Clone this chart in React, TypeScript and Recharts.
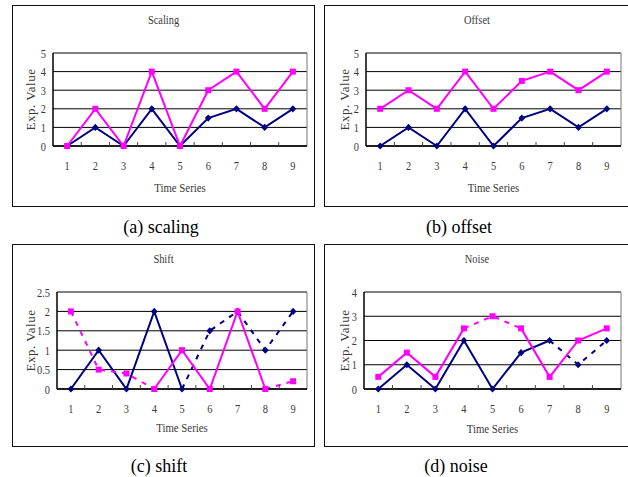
import { LineChart, Line, XAxis, YAxis, CartesianGrid, ReferenceLine } from 'recharts';

// x positions (Excel style category axis: points in the middle of each band)
const timeSeries = [1, 2, 3, 4, 5, 6, 7, 8, 9];
const bandEdges = [1.5, 2.5, 3.5, 4.5, 5.5, 6.5, 7.5, 8.5];

// (a) scaling
const scalingNavy = [0, 1, 0, 2, 0, 1.5, 2, 1, 2];
const scalingPink = [0, 2, 0, 4, 0, 3, 4, 2, 4];
// (b) offset
const offsetNavy = [0, 1, 0, 2, 0, 1.5, 2, 1, 2];
const offsetPink = [2, 3, 2, 4, 2, 3.5, 4, 3, 4];
// (c) shift
const shiftNavy = [0, 1, 0, 2, 0, 1.5, 2, 1, 2];
const shiftPink = [2, 0.5, 0.4, 0, 1, 0, 2, 0, 0.2];
// (d) noise
const noiseNavy = [0, 1, 0, 2, 0, 1.5, 2, 1, 2];
const noisePink = [0.5, 1.5, 0.5, 2.5, 3, 2.5, 0.5, 2, 2.5];

// y ticks
const ticksFive = [0, 1, 2, 3, 4, 5];
const ticksShift = [0, 0.5, 1, 1.5, 2, 2.5];
const ticksNoise = [0, 1, 2, 3, 4];

// line segments: [from, to, dashed]
type Seg = [number, number, boolean];
const allSolid: Seg[] = [[1, 9, false]];
const shiftNavySegs: Seg[] = [[1, 5, false], [5, 9, true]];
const shiftPinkSegs: Seg[] = [[1, 4, true], [4, 8, false], [8, 9, true]];
const noiseNavySegs: Seg[] = [[1, 7, false], [7, 9, true]];
const noisePinkSegs: Seg[] = [[1, 4, false], [4, 6, true], [6, 9, false]];

const NAVY = '#000080';
const PINK = '#FF00FF';
const TEXT = '#3a3a3a';
const DASH = '5 6';
const X_TICK_SIZE = 4;
const X_TICK_MARGIN = 11;
const FONT = '"Liberation Serif", "Times New Roman", serif';

function XTick(props: any) {
  const { x, y, payload } = props;
  const v = payload.value;
  if (!Number.isInteger(v)) {
    const axisY = y - X_TICK_SIZE - X_TICK_MARGIN;
    return <line x1={x} x2={x} y1={axisY} y2={axisY - 4} stroke="#444" strokeWidth={1} />;
  }
  return (
    <text transform={`translate(${x},${y}) scale(0.8,1)`} textAnchor="middle" dy="0.71em" fontSize={13} fill={TEXT} fontFamily={FONT}>
      {v}
    </text>
  );
}

function YTick(props: any) {
  const { x, y, payload } = props;
  return (
    <text transform={`translate(${x},${y}) scale(0.8,1)`} textAnchor="end" dy="0.35em" fontSize={13} fill={TEXT} fontFamily={FONT}>
      {payload.value}
    </text>
  );
}

function Diamond(props: any) {
  const { cx, cy } = props;
  if (cx == null || cy == null) return null;
  return <polygon points={`${cx},${cy - 3.6} ${cx + 3.4},${cy} ${cx},${cy + 3.6} ${cx - 3.4},${cy}`} fill={NAVY} />;
}

function Square(props: any) {
  const { cx, cy } = props;
  if (cx == null || cy == null) return null;
  return <rect x={cx - 3} y={cy - 3} width={6} height={6} fill={PINK} />;
}

interface PanelProps {
  box: [number, number, number, number]; // left, top, right, bottom (page px)
  plot: [number, number, number, number];
  title: string;
  caption: string;
  captionX: number;
  captionY: number;
  navy: number[];
  pink: number[];
  navySegs: Seg[];
  pinkSegs: Seg[];
  yTicks: number[];
  yLabelX: number;
  xLabelGap: number;
}

function Panel(p: PanelProps) {
  const [bl, bt, br, bb] = p.box;
  const [pl, pt, pr, pb] = p.plot;
  const w = br - bl;
  const h = bb - bt;

  const data = timeSeries.map((t, i) => {
    const row: any = { t, navy: p.navy[i], pink: p.pink[i] };
    p.navySegs.forEach(([a, b], k) => {
      row[`navy${k}`] = t >= a && t <= b ? p.navy[i] : null;
    });
    p.pinkSegs.forEach(([a, b], k) => {
      row[`pink${k}`] = t >= a && t <= b ? p.pink[i] : null;
    });
    return row;
  });

  const yMax = p.yTicks[p.yTicks.length - 1];

  return (
    <>
      <div
        style={{
          position: 'absolute', left: bl, top: bt, width: w, height: h,
          border: '1.5px solid #111', boxSizing: 'border-box',
        }}
      />
      <div
        style={{
          position: 'absolute', left: bl, top: bt + 7, width: w, height: 16, lineHeight: '16px',
          textAlign: 'center', fontSize: 13, color: TEXT, fontFamily: FONT,
          transform: 'scaleX(0.8)',
        }}
      >
        {p.title}
      </div>
      <div style={{ position: 'absolute', left: bl, top: bt }}>
        <LineChart
          width={w}
          height={h}
          data={data}
          margin={{ top: pt - bt, right: br - pr, left: 0, bottom: 0 }}
        >
          <CartesianGrid vertical={false} stroke="#000" strokeWidth={1} />
          <XAxis
            dataKey="t"
            type="number"
            domain={[0.5, 9.5]}
            ticks={[...timeSeries, ...bandEdges]}
            interval={0}
            height={bb - pb}
            tickLine={false}
            tickSize={X_TICK_SIZE}
            tickMargin={X_TICK_MARGIN}
            axisLine={{ stroke: '#000', strokeWidth: 1.5 }}
            tick={(tp: any) => <XTick {...tp} />}
            label={(lp: any) => {
              const vb = lp.viewBox;
              return (
                <text
                  transform={`translate(${vb.x + vb.width / 2},${vb.y + p.xLabelGap}) scale(0.8,1)`}
                  textAnchor="middle" dy="0.35em" fontSize={13.5} fill={TEXT} fontFamily={FONT}
                >
                  Time Series
                </text>
              );
            }}
          />
          <YAxis
            type="number"
            domain={[0, yMax]}
            ticks={p.yTicks}
            interval={0}
            width={pl - bl}
            tickLine={false}
            tickSize={2}
            tickMargin={5}
            axisLine={{ stroke: '#000', strokeWidth: 1.5 }}
            tick={(tp: any) => <YTick {...tp} />}
            label={(lp: any) => {
              const vb = lp.viewBox;
              const cx = p.yLabelX - bl;
              const cy = vb.y + vb.height / 2;
              return (
                <text
                  x={cx} y={cy} transform={`rotate(-90 ${cx} ${cy})`}
                  textAnchor="middle" dy="0.35em" fontSize={13} fill={TEXT} fontFamily={FONT}
                  letterSpacing={0.5}
                >
                  Exp. Value
                </text>
              );
            }}
          />
          <ReferenceLine x={9.5} stroke="#777" strokeWidth={1} />
          {p.navySegs.map(([, , dashed], k) => (
            <Line
              key={`n${k}`}
              dataKey={`navy${k}`}
              stroke={NAVY}
              strokeWidth={2}
              strokeDasharray={dashed ? DASH : undefined}
              dot={false}
              activeDot={false}
              type="linear"
              isAnimationActive={false}
            />
          ))}
          {p.pinkSegs.map(([, , dashed], k) => (
            <Line
              key={`p${k}`}
              dataKey={`pink${k}`}
              stroke={PINK}
              strokeWidth={2}
              strokeDasharray={dashed ? DASH : undefined}
              dot={false}
              activeDot={false}
              type="linear"
              isAnimationActive={false}
            />
          ))}
          <Line dataKey="navy" stroke="none" dot={(dp: any) => <Diamond key={`d${dp.index}`} {...dp} />} activeDot={false} isAnimationActive={false} />
          <Line dataKey="pink" stroke="none" dot={(dp: any) => <Square key={`s${dp.index}`} {...dp} />} activeDot={false} isAnimationActive={false} />
        </LineChart>
      </div>
      <div
        style={{
          position: 'absolute', left: p.captionX - 100, top: p.captionY - 11, width: 200,
          height: 22, lineHeight: '22px', textAlign: 'center', fontSize: 18, color: '#000', fontFamily: FONT,
        }}
      >
        {p.caption}
      </div>
    </>
  );
}

export default function App() {
  return (
    <div
      style={{
        position: 'absolute', left: 0, top: 0, width: 628, height: 477,
        overflow: 'hidden', background: '#fff',
      }}
    >
      <Panel
        box={[12, 5, 315, 207]} plot={[53, 53, 307, 146]}
        title="Scaling" caption="(a) scaling" captionX={161} captionY={227}
        navy={scalingNavy} pink={scalingPink} navySegs={allSolid} pinkSegs={allSolid}
        yTicks={ticksFive} yLabelX={30} xLabelGap={41}
      />
      <Panel
        box={[324, 5, 630, 207]} plot={[366, 53, 621, 146]}
        title="Offset" caption="(b) offset" captionX={459} captionY={227}
        navy={offsetNavy} pink={offsetPink} navySegs={allSolid} pinkSegs={allSolid}
        yTicks={ticksFive} yLabelX={344} xLabelGap={41}
      />
      <Panel
        box={[12, 244, 315, 447]} plot={[57, 292, 307, 389]}
        title="Shift" caption="(c) shift" captionX={159} captionY={466}
        navy={shiftNavy} pink={shiftPink} navySegs={shiftNavySegs} pinkSegs={shiftPinkSegs}
        yTicks={ticksShift} yLabelX={30} xLabelGap={38}
      />
      <Panel
        box={[324, 244, 630, 447]} plot={[364, 292, 621, 389]}
        title="Noise" caption="(d) noise" captionX={456} captionY={466}
        navy={noiseNavy} pink={noisePink} navySegs={noiseNavySegs} pinkSegs={noisePinkSegs}
        yTicks={ticksNoise} yLabelX={344} xLabelGap={39}
      />
    </div>
  );
}
